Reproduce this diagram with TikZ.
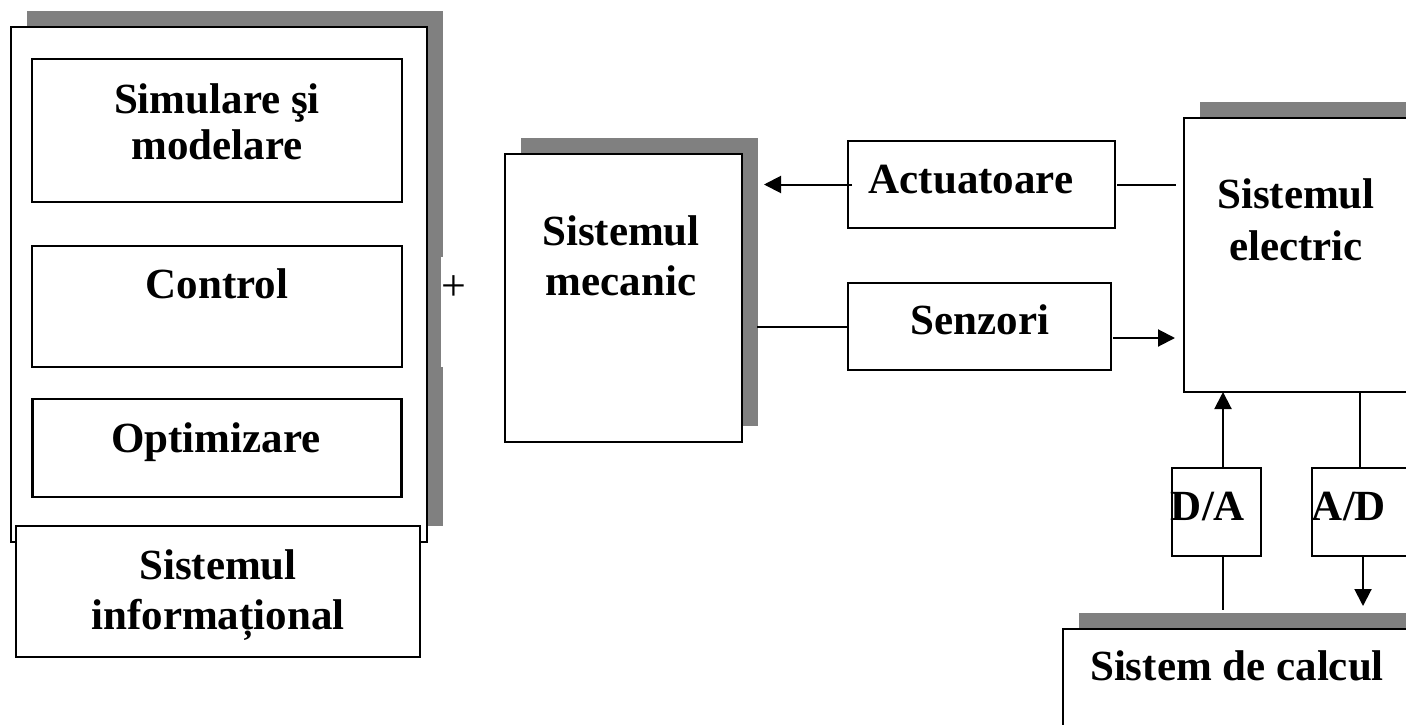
\documentclass[tikz,border=0pt]{standalone}
\usepackage{fontspec}
\setmainfont{Liberation Serif}
\usetikzlibrary{arrows.meta,shadows}
\definecolor{shadowgray}{HTML}{808080}
\begin{document}
\begin{tikzpicture}[x=1pt,y=-1pt,
  box/.style={draw=black,line width=2.4pt,fill=white,inner sep=0pt,outer sep=0pt},
  shadowbox/.style={box,drop shadow={shadow xshift=16pt,shadow yshift=16pt,fill=shadowgray,opacity=1}},
  lbl/.style={font=\fontsize{43}{50}\selectfont\bfseries,inner sep=0pt,align=center,anchor=base},
  wire/.style={line width=2pt},
  arr/.style={wire,-{Triangle[length=17pt,width=17pt]}}
]
\useasboundingbox (0,0) rectangle (1406,725);
\clip (0,0) rectangle (1406,725);

% information system frame with its modules
\node[shadowbox,minimum width=416pt,minimum height=515pt] (info) at (219,284.5) {};
\fill[white] (441,257) rectangle (475,367);
\node[font=\fontsize{44}{46}\selectfont,inner sep=0pt] (plus) at (454,288) {+};
\node[box,minimum width=370pt,minimum height=143pt] (sim) at (217,130.5) {};
\node[box,minimum width=370pt,minimum height=121pt] (ctrl) at (217,306.5) {};
\node[box,minimum width=369pt,minimum height=98pt] (opt) at (217,448) {};
\node[box,minimum width=404pt,minimum height=131pt] (infolbl) at (218,591.5) {};
\node[lbl] (simt) at (217,159) {Simulare şi\\[-4pt]modelare};
\node[lbl] (ctrlt) at (217,298) {Control};
\node[lbl] (optt) at (216,452) {Optimizare};
\node[lbl] (infot) at (218,629) {Sistemul\\informațional};

% mechanical system
\node[shadowbox,minimum width=237pt,minimum height=288pt] (mech) at (623.5,298) {};
\node[lbl] (mecht) at (621,295) {Sistemul\\mecanic};
\coordinate (mechin) at (764,184.5);
\coordinate (mechout) at (757,326.5);

% actuators and sensors
\node[box,minimum width=267pt,minimum height=87pt] (act) at (981.5,184.5) {};
\node[lbl] (actt) at (971,193) {Actuatoare};
\node[box,minimum width=263pt,minimum height=87pt] (sen) at (979.5,326.5) {};
\node[lbl] (sent) at (980,334) {Senzori};

% electrical system
\node[shadowbox,minimum width=246pt,minimum height=274pt] (el) at (1307,255) {};
\node[lbl] (elt) at (1296,260) {Sistemul\\[2pt]electric};

% converters
\node[box,minimum width=89pt,minimum height=88pt] (da) at (1216.5,512) {};
\node[lbl] (dat) at (1208,520) {D/A};
\node[box,minimum width=118pt,minimum height=88pt] (ad) at (1371,512) {};
\node[lbl] (adt) at (1349,520) {A/D};

% computing system
\node[shadowbox,minimum width=367pt,minimum height=116pt] (calc) at (1246.5,687) {};
\node[lbl] (calct) at (1237,680) {Sistem de calcul};

% connections
\draw[arr] ([xshift=4pt]act.west) -- (mechin);
\draw[wire] (sen.west) -- (mechout);
\draw[wire,shorten <=2pt,shorten >=8pt] (act.east) -- (act.east -| el.west);
\draw[arr,shorten <=2pt,shorten >=9pt] ([yshift=-11.5pt]sen.east) -- ([yshift=-11.5pt]sen.east -| el.west);
\draw[arr] ([xshift=6.5pt]da.north) -- ([xshift=6.5pt]da.north |- el.south);
\draw[wire,shorten >=19pt] ([xshift=6.5pt]da.south) -- ([xshift=6.5pt]da.south |- calc.north);
\draw[wire] ([xshift=-11pt]ad.north |- el.south) -- ([xshift=-11pt]ad.north);
\draw[arr,shorten >=23pt] ([xshift=-8pt]ad.south) -- ([xshift=-8pt]ad.south |- calc.north);
\end{tikzpicture}
\end{document}
